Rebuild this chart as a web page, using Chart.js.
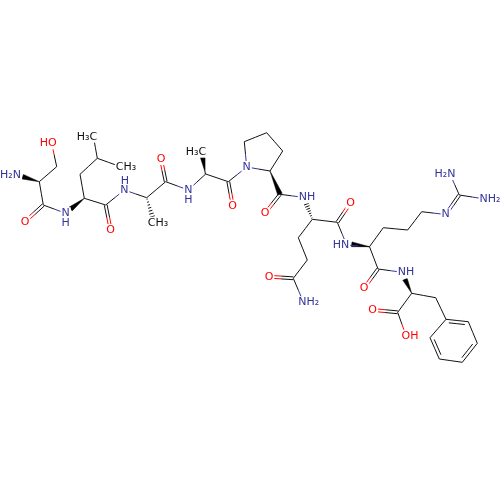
<!DOCTYPE html>
<html>
<head>
<meta charset="utf-8">
<style>
  html, body { margin: 0; padding: 0; background: #fff; }
  #chart { display: block; }
</style>
<script src="https://cdn.jsdelivr.net/npm/chart.js@4"></script>
</head>
<body>
<canvas id="chart" width="500" height="500"></canvas>
<script>
// Atoms
const atomX = [16, 39.3, 56.7, 51.7, 43.3, 25, 65.7, 84.3, 80, 97.3, 93.5, 120, 105.7, 110.7, 124.3, 146.7, 153, 165.7, 161, 188.3,
  205.7, 202.7, 228.3, 232.7, 246.7, 244.3, 266.7, 282.7, 270, 280, 265, 303, 312.3, 337.3, 350.7, 346.7, 369.5, 298.3, 307.3, 293.3,
  269, 303.5, 383.3, 407.7, 421.7, 445.7, 459.3, 450, 485, 378, 364, 402.3, 411.7, 397.7, 372.7, 406, 435.7,
  446, 468.3, 477.3, 462.3, 439.3, 430];
const atomY = [175, 181.7, 166.7, 143.3, 205, 221.7, 213.3, 198.3, 174.3, 158.3, 137, 166.5, 205, 230, 190, 197.7, 221, 181.7, 159, 190,
  174, 154, 181.7, 205.7, 167, 141.7, 132.7, 151, 171, 194.3, 213.3, 197.3, 219.3, 222.3, 202.7, 245, 246.7, 237.7, 260, 278.3,
  276.7, 302.3, 227.7, 230, 211.7, 214.5, 195, 174, 199, 269, 288.3, 272.3, 293.3, 312.3, 310, 335.7, 297.7,
  319.3, 321.7, 343.3, 362.3, 359, 337.7];
const atomKind = ["N", "C", "C", "O", "C", "O", "N", "C", "C", "C", "C", "C", "C", "O", "N", "C", "C", "C", "O", "N",
  "C", "C", "C", "O", "N", "C", "C", "C", "C", "C", "O", "N", "C", "C", "O", "N", "C", "C", "C", "C",
  "O", "N", "C", "C", "C", "N", "C", "N", "N", "C", "O", "N", "C", "C", "O", "O", "C",
  "C", "C", "C", "C", "C", "C"];

// Bonds between atoms
const bondFrom = [1, 2, 1, 4, 4, 7, 8, 9, 9, 7, 12, 12, 14, 15, 17, 17, 19, 20, 22, 22, 24, 25, 26, 27, 28, 29, 29, 32, 33, 33, 35, 32, 37, 38, 39, 39,
  36, 42, 43, 44, 45, 46, 46, 36, 49, 49, 52, 53, 53, 52, 56, 57, 58, 59, 60, 61, 62];
const bondTo = [2, 3, 4, 5, 6, 8, 9, 10, 11, 12, 13, 14, 15, 17, 18, 19, 20, 22, 23, 24, 25, 26, 27, 28, 24, 30, 31, 33, 34, 35, 36, 37, 38, 39, 40, 41,
  42, 43, 44, 45, 46, 47, 48, 49, 50, 51, 53, 54, 55, 56, 57, 58, 59, 60, 61, 62, 57];
const bondOrder = [1, 1, 1, 2, 1, 1, 1, 1, 1, 1, 2, 1, 1, 1, 2, 1, 1, 1, 2, 1, 1, 1, 1, 1, 1, 2, 1, 1, 2, 1, 1, 1, 1, 1, 2, 1,
  1, 1, 1, 1, 2, 1, 1, 1, 2, 1, 1, 2, 1, 1, 1, 3, 1, 3, 1, 3, 1];

// Stereo bonds: chiral atom, then where the wide end stops
const wedgeAtom = [1, 7, 20, 28, 36, 52];
const wedgeEndX = [22.7, 70.7, 202.7, 280, 351.7, 405];
const wedgeEndY = [176.7, 209, 157, 194.3, 244.3, 279.3];
const hashAtom = [15, 32];
const hashEndX = [152.7, 306];
const hashEndY = [218, 203];

// Atom labels
const labelText = ["H₂N", "HO", "H₃C", "CH₃", "O", "N", "H", "O", "H", "N", "CH₃", "O", "H₃C", "N", "H", "O", "N", "O", "NH", "O", "HN",
  "O", "NH₂", "O", "NH", "O", "OH", "N", "H₂N", "NH₂"];
const labelX = [10.5, 48.3, 87, 126, 25, 65.7, 65.7, 110.7, 125, 124.3, 158, 161, 196, 188.3, 188.3, 232.7, 246.7, 265, 307, 350.7, 341,
  269, 308.7, 364, 406, 372.7, 410, 445.7, 445, 490];
const labelY = [175, 143.3, 136.7, 167.3, 221.7, 213.3, 222.7, 230, 181, 190, 222.7, 159, 151.7, 190, 200, 205.7, 167, 213.3, 197.3, 202.7, 245,
  276.7, 302.3, 288.3, 272.3, 310, 335.7, 214.5, 174, 199];
const labelKind = ["N", "O", "C", "C", "O", "N", "N", "O", "N", "N", "C", "O", "C", "N", "N", "O", "N", "O", "N", "O", "N",
  "O", "N", "O", "N", "O", "O", "N", "N", "N"];

const colors = { C: "#111111", N: "#33339a", O: "#ff0000" };
const segments = { C: [], N: [], O: [] };

function addSegment(kind, x1, y1, x2, y2) {
  segments[kind].push({ x: x1, y: y1 }, { x: x2, y: y2 }, { x: null, y: null });
}

// one line, half in the colour of each end
function addHalves(a, b, ox, oy, trim) {
  const x1 = atomX[a] + ox, y1 = atomY[a] + oy;
  const x2 = atomX[b] + ox, y2 = atomY[b] + oy;
  const mx = (x1 + x2) / 2, my = (y1 + y2) / 2;
  addSegment(atomKind[a], x1 + (x2 - x1) * trim, y1 + (y2 - y1) * trim, mx, my);
  addSegment(atomKind[b], mx, my, x2 - (x2 - x1) * trim, y2 - (y2 - y1) * trim);
}

bondFrom.forEach((a, i) => {
  const b = bondTo[i];
  const dx = atomX[b] - atomX[a], dy = atomY[b] - atomY[a];
  const len = Math.hypot(dx, dy);
  const nx = -dy / len, ny = dx / len;
  if (bondOrder[i] === 1) {
    addHalves(a, b, 0, 0, 0);
  } else if (bondOrder[i] === 2) {
    addHalves(a, b, nx * 1.4, ny * 1.4, 0);
    addHalves(a, b, -nx * 1.4, -ny * 1.4, 0);
  } else {
    // aromatic double: second line inside the ring
    addHalves(a, b, 0, 0, 0);
    const cx = 453.5, cy = 340.5;
    const side = ((atomX[a] + nx - cx) ** 2 + (atomY[a] + ny - cy) ** 2) < ((atomX[a] - cx) ** 2 + (atomY[a] - cy) ** 2) ? 1 : -1;
    addHalves(a, b, side * nx * 3.2, side * ny * 3.2, 0.14);
  }
});

const hashPoints = [];
hashAtom.forEach((a, i) => {
  const dx = hashEndX[i] - atomX[a], dy = hashEndY[i] - atomY[a];
  const len = Math.hypot(dx, dy);
  const nx = -dy / len, ny = dx / len;
  for (let s = 0; s < 7; s++) {
    const t = (s + 0.5) / 7, w = 0.4 + t * 2.4;
    const px = atomX[a] + dx * t, py = atomY[a] + dy * t;
    hashPoints.push({ x: px - nx * w, y: py - ny * w }, { x: px + nx * w, y: py + ny * w }, { x: null, y: null });
  }
});

const datasets = [];
["C", "N", "O"].forEach(kind => {
  datasets.push({
    data: segments[kind], showLine: true, spanGaps: false, borderColor: colors[kind],
    borderWidth: 1, pointRadius: 0, fill: false
  });
});
datasets.push({ data: hashPoints, showLine: true, spanGaps: false, borderColor: colors.C, borderWidth: 1, pointRadius: 0, fill: false });

wedgeAtom.forEach((a, i) => {
  const dx = wedgeEndX[i] - atomX[a], dy = wedgeEndY[i] - atomY[a];
  const len = Math.hypot(dx, dy);
  const nx = -dy / len * 2.4, ny = dx / len * 2.4;
  datasets.push({
    data: [
      { x: atomX[a], y: atomY[a] },
      { x: wedgeEndX[i] + nx, y: wedgeEndY[i] + ny },
      { x: wedgeEndX[i] - nx, y: wedgeEndY[i] - ny },
      { x: atomX[a], y: atomY[a] }
    ],
    showLine: true, borderColor: "#000", borderWidth: 0.5, backgroundColor: "#000", pointRadius: 0, fill: "shape", tension: 0
  });
});

// Atom labels sit on a white patch so bonds stop short of them
const atomLabels = {
  id: "atomLabels",
  afterDatasetsDraw(chart) {
    const ctx = chart.ctx;
    const xs = chart.scales.x, ys = chart.scales.y;
    ctx.save();
    ctx.font = "11px 'DejaVu Sans'";
    ctx.textAlign = "center";
    ctx.textBaseline = "middle";
    labelText.forEach((text, i) => {
      const px = xs.getPixelForValue(labelX[i]), py = ys.getPixelForValue(labelY[i]);
      const w = ctx.measureText(text).width + 2;
      ctx.fillStyle = "#fff";
      ctx.fillRect(px - w / 2, py - 6, w, 12);
    });
    labelText.forEach((text, i) => {
      ctx.fillStyle = colors[labelKind[i]];
      ctx.fillText(text, xs.getPixelForValue(labelX[i]), ys.getPixelForValue(labelY[i]));
    });
    ctx.restore();
  }
};

new Chart(document.getElementById("chart").getContext("2d"), {
  type: "scatter",
  data: { datasets },
  options: {
    responsive: false,
    animation: false,
    devicePixelRatio: 1,
    layout: { padding: 0 },
    plugins: { legend: { display: false }, tooltip: { enabled: false } },
    scales: {
      x: { type: "linear", min: 0, max: 500, display: false },
      y: { type: "linear", min: 0, max: 500, reverse: true, display: false }
    }
  },
  plugins: [atomLabels]
});
</script>
</body>
</html>
